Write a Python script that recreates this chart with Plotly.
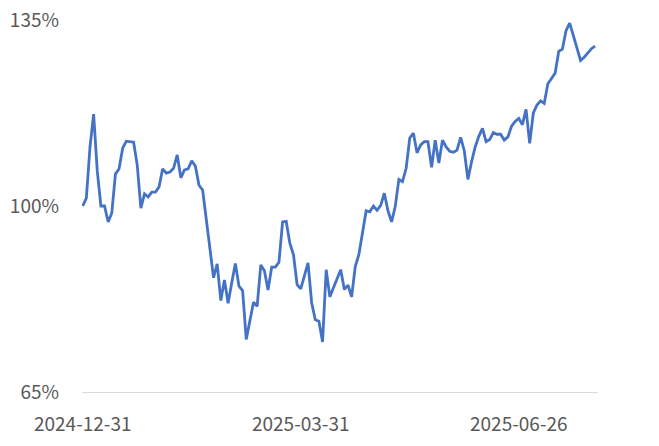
import pandas as pd
import plotly.graph_objects as go

# Trading-day categories (US market calendar) from 2024-12-31 to 2025-07-28
start_date = "2024-12-31"
end_date = "2025-07-28"
market_holidays = ["2025-01-01", "2025-01-09", "2025-01-20", "2025-02-17",
                   "2025-04-18", "2025-05-26", "2025-06-19", "2025-07-04"]
dates = [d.strftime("%Y-%m-%d") for d in
         pd.bdate_range(start_date, end_date, freq="C", holidays=market_holidays)]

# Normalised value, in percent
values = [100.0, 101.5, 111.1, 117.3, 106.6, 100.0, 100.0, 97.0, 98.7, 106.0,
          107.0, 110.9, 112.2, 112.1, 112.0, 107.7, 99.6, 102.3, 101.7, 102.6,
          102.6, 103.6, 107.0, 106.2, 106.4, 107.1, 109.6, 105.3, 106.8, 107.0,
          108.5, 107.5, 103.9, 103.0, 97.4, 92.3, 86.5, 89.1, 82.2, 86.1,
          81.7, 85.5, 89.2, 84.9, 84.1, 74.9, 78.6, 81.9, 81.1, 88.9,
          87.8, 84.2, 88.5, 88.5, 89.4, 97.0, 97.1, 93.0, 90.8, 85.2,
          84.4, 86.8, 89.3, 81.8, 78.6, 78.3, 74.4, 88.0, 82.9, 84.6,
          86.5, 88.0, 84.3, 85.1, 82.9, 88.6, 90.9, 94.7, 99.1, 98.9,
          100.0, 99.2, 100.1, 102.4, 99.1, 97.0, 99.9, 105.0, 104.6, 107.1,
          112.8, 113.7, 110.0, 111.5, 112.1, 112.1, 107.3, 112.4, 108.1, 112.4,
          111.1, 110.3, 110.1, 110.5, 112.9, 110.4, 105.0, 108.3, 111.1, 113.1,
          114.6, 112.1, 112.5, 113.8, 113.5, 113.5, 112.4, 113.0, 115.0, 115.9,
          116.5, 115.3, 118.2, 111.8, 117.5, 119.0, 119.8, 119.3, 123.0, 124.0,
          125.0, 129.1, 129.5, 133.0, 134.4, 132.1, 129.9, 127.4, 128.0, 128.9,
          129.6, 130.1]

x_tick_labels = ["2024-12-31", "2025-03-31", "2025-06-26"]
y_tick_values = [65, 100, 135]
y_tick_labels = ["65%", "100%", "135%"]

font_family = "Noto Sans CJK SC, Noto Sans, sans-serif"
text_color = "#595959"

fig = go.Figure()
fig.add_trace(go.Scatter(
    x=dates, y=values, mode="lines",
    line=dict(color="#4472C4", width=2.8),
    hoverinfo="skip", showlegend=False,
))

fig.update_layout(
    width=659, height=446,
    margin=dict(l=82, r=61, t=20, b=54),
    paper_bgcolor="white", plot_bgcolor="white",
    font=dict(family=font_family, size=19, color=text_color),
    xaxis=dict(
        type="category", automargin=False,
        tickmode="array", tickvals=x_tick_labels, ticktext=x_tick_labels,
        range=[-0.2, len(dates) - 0.2],
        showgrid=False, zeroline=False,
        showline=True, linecolor="#d9d9d9", linewidth=1,
        ticks="", ticklabelstandoff=15,
        tickfont=dict(family=font_family, size=19, color=text_color),
    ),
    yaxis=dict(
        range=[65, 135], automargin=False,
        tickmode="array", tickvals=y_tick_values, ticktext=y_tick_labels,
        showgrid=False, zeroline=False, showline=False,
        ticks="", ticklabelstandoff=22,
        tickfont=dict(family=font_family, size=19, color=text_color),
    ),
)

fig.write_html(
    "out.html",
    config={"displayModeBar": False},
    post_script="document.body.style.margin='0';document.body.style.padding='0';",
)
